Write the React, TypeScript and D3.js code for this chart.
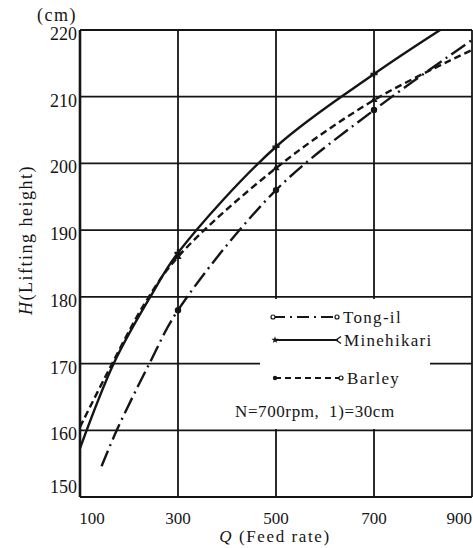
import React, { useRef, useEffect } from "react";
import * as d3 from "d3";

// axis ticks
const qTicks = [100, 300, 500, 700, 900];
const hTicks = [150, 160, 170, 180, 190, 200, 210, 220];
const markQ = [300, 500, 700];

// curves: [Q, H]
const tongIl: [number, number][] = [
	[144, 154.6], [175, 160], [243, 170.2], [300, 178], [500, 196], [700, 208], [900, 218.5]
];
const minehikari: [number, number][] = [
	[100, 157.3], [170, 170.2], [245, 180.2], [300, 186.6], [500, 202.5], [700, 213.4], [835, 220]
];
const barley: [number, number][] = [
	[100, 160.5], [160, 169.2], [232, 179], [300, 186], [500, 199.3], [700, 209.5], [900, 217]
];

const seriesNames = ["Tong-il", "Minehikari", "Barley"];
const noteText = "N=700rpm,  1)=30cm";

const App = () => {
	const chartRef = useRef<SVGSVGElement>(null);

	useEffect(() => {
		const width = 473;
		const height = 548;
		const ink = "#151515";
		const font = "'Liberation Serif', 'DejaVu Serif', serif";

		const svg = d3.select(chartRef.current);
		svg.selectAll("*").remove();

		svg.append("rect").attr("width", width).attr("height", height).attr("fill", "#fff");

		const x = d3.scaleLinear().domain([100, 900]).range([80, 472]);
		const y = d3.scaleLinear().domain([150, 220]).range([497, 30]);

		// grid
		svg.append("g")
			.selectAll("line")
			.data(hTicks)
			.join("line")
			.attr("x1", x(100))
			.attr("x2", x(900))
			.attr("y1", d => y(d))
			.attr("y2", d => y(d))
			.attr("stroke", ink)
			.attr("stroke-width", 1.8);

		svg.append("g")
			.selectAll("line")
			.data(qTicks)
			.join("line")
			.attr("x1", d => x(d))
			.attr("x2", d => x(d))
			.attr("y1", y(220))
			.attr("y2", y(150))
			.attr("stroke", ink)
			.attr("stroke-width", d => (d === 100 ? 2.6 : 1.8));

		// white legend panel breaks the grid
		svg.append("rect")
			.attr("x", 260)
			.attr("y", 299)
			.attr("width", 170)
			.attr("height", 130)
			.attr("fill", "#fff");

		// tick labels
		svg.append("g")
			.selectAll("text")
			.data(hTicks)
			.join("text")
			.attr("x", 77)
			.attr("y", d => (d === 150 ? y(d) - 4 : y(d) + 10))
			.attr("text-anchor", "end")
			.attr("font-family", font)
			.attr("font-size", 18)
			.attr("fill", ink)
			.text(d => d);

		svg.append("g")
			.selectAll("text")
			.data(qTicks)
			.join("text")
			.attr("x", d => (d === 100 ? x(d) + 12 : d === 900 ? 472 : x(d)))
			.attr("y", 524)
			.attr("text-anchor", d => (d === 900 ? "end" : "middle"))
			.attr("font-family", font)
			.attr("font-size", 17)
			.attr("fill", ink)
			.text(d => d);

		// axis titles
		svg.append("text")
			.attr("x", 57)
			.attr("y", 21)
			.attr("text-anchor", "middle")
			.attr("font-family", font)
			.attr("font-size", 18)
			.attr("letter-spacing", 1.5)
			.attr("fill", ink)
			.text("(cm)");

		const xt = svg.append("text")
			.attr("x", 275)
			.attr("y", 542)
			.attr("text-anchor", "middle")
			.attr("font-family", font)
			.attr("font-size", 17)
			.attr("letter-spacing", 1.6)
			.attr("fill", ink);
		xt.append("tspan").attr("font-style", "italic").text("Q");
		xt.append("tspan").text(" (Feed rate)");

		const yt = svg.append("text")
			.attr("transform", "translate(32,240) rotate(-90)")
			.attr("text-anchor", "middle")
			.attr("font-family", font)
			.attr("font-size", 18)
			.attr("letter-spacing", 1.5)
			.attr("fill", ink);
		yt.append("tspan").attr("font-style", "italic").text("H");
		yt.append("tspan").text("(Lifting height)");

		// curves
		svg.append("clipPath")
			.attr("id", "plotClip")
			.append("rect")
			.attr("x", x(100))
			.attr("y", y(220))
			.attr("width", x(900) - x(100))
			.attr("height", y(150) - y(220));

		const line = d3.line<[number, number]>()
			.x(d => x(d[0]))
			.y(d => y(d[1]))
			.curve(d3.curveCatmullRom.alpha(0.5));

		const series = [
			{ name: seriesNames[0], data: tongIl, dash: "17,5,2,5" },
			{ name: seriesNames[1], data: minehikari, dash: null },
			{ name: seriesNames[2], data: barley, dash: "7,4" }
		];

		const plot = svg.append("g").attr("clip-path", "url(#plotClip)");

		series.forEach(s => {
			plot.append("path")
				.datum(s.data)
				.attr("d", line)
				.attr("fill", "none")
				.attr("stroke", ink)
				.attr("stroke-width", 2.4)
				.attr("stroke-dasharray", s.dash);
		});

		// markers at the measured feed rates
		const marks = (data: [number, number][]) => data.filter(d => markQ.includes(d[0]));

		plot.selectAll(".m-tong")
			.data(marks(tongIl))
			.join("circle")
			.attr("class", "m-tong")
			.attr("cx", d => x(d[0]))
			.attr("cy", d => y(d[1]))
			.attr("r", 3.2)
			.attr("fill", ink);

		plot.selectAll(".m-mine")
			.data(marks(minehikari))
			.join("path")
			.attr("class", "m-mine")
			.attr("transform", d => `translate(${x(d[0])},${y(d[1])})`)
			.attr("d", d3.symbol(d3.symbolCross, 28))
			.attr("fill", ink);

		plot.selectAll(".m-bar")
			.data(marks(barley))
			.join("path")
			.attr("class", "m-bar")
			.attr("transform", d => `translate(${x(d[0])},${y(d[1])})`)
			.attr("d", d3.symbol(d3.symbolTriangle, 22))
			.attr("fill", ink);

		// legend
		const rows = [
			{ y: 317, x1: 273, x2: 337 },
			{ y: 340, x1: 275, x2: 338 },
			{ y: 378, x1: 275, x2: 341 }
		];

		series.forEach((s, i) => {
			const r = rows[i];
			svg.append("line")
				.attr("x1", r.x1)
				.attr("x2", r.x2)
				.attr("y1", r.y)
				.attr("y2", r.y)
				.attr("stroke", ink)
				.attr("stroke-width", 1.8)
				.attr("stroke-dasharray", i === 0 ? "12,5,2,5" : i === 2 ? "6,4" : null);

			svg.append("text")
				.attr("x", r.x2 + 6)
				.attr("y", r.y + 6)
				.attr("font-family", font)
				.attr("font-size", 17)
				.attr("letter-spacing", 1.3)
				.attr("fill", ink)
				.text(s.name);
		});

		// legend end marks
		svg.append("circle").attr("cx", 273).attr("cy", 317).attr("r", 2).attr("fill", "#fff").attr("stroke", ink).attr("stroke-width", 1.2);
		svg.append("circle").attr("cx", 337).attr("cy", 317).attr("r", 2).attr("fill", "#fff").attr("stroke", ink).attr("stroke-width", 1.2);
		svg.append("path").attr("transform", "translate(275,340)").attr("d", d3.symbol(d3.symbolStar, 16)).attr("fill", ink);
		svg.append("path").attr("d", "M341,336.5 L336,340 L341,343.5").attr("fill", "none").attr("stroke", ink).attr("stroke-width", 1.3);
		svg.append("circle").attr("cx", 275).attr("cy", 378).attr("r", 2.2).attr("fill", ink);
		svg.append("circle").attr("cx", 341).attr("cy", 378).attr("r", 2).attr("fill", "#fff").attr("stroke", ink).attr("stroke-width", 1.2);

		svg.append("text")
			.attr("x", 235)
			.attr("y", 417)
			.attr("font-family", font)
			.attr("font-size", 17)
			.attr("letter-spacing", 0.6)
			.attr("fill", ink)
			.attr("xml:space", "preserve")
			.style("white-space", "pre")
			.text(noteText);
	}, []);

	return (
		<svg
			ref={chartRef}
			width={473}
			height={548}
			style={{ position: "absolute", left: 0, top: 0 }}
		></svg>
	);
};

export default App;
